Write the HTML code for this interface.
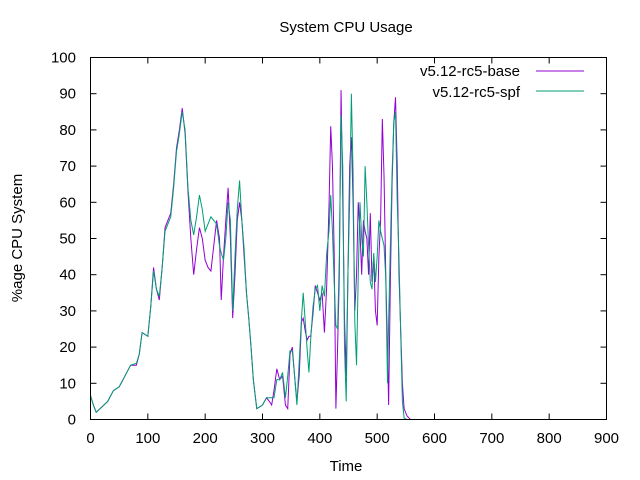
<!DOCTYPE html>
<html><head><meta charset="utf-8"><style>
body{margin:0;background:#fff}
svg{display:block;font-family:"Liberation Sans",sans-serif}
</style></head><body>
<svg id="chart" width="640" height="480">
<rect width="640" height="480" fill="#fff"/>
<text x="346" y="32" font-size="15" text-anchor="middle">System CPU Usage</text>
<text x="22" y="238" font-size="15" text-anchor="middle" transform="rotate(-90 22 238)">%age CPU System</text>
<text x="346" y="471" font-size="15" text-anchor="middle">Time</text>
<g id="axes"></g>
<g id="series"></g>
<rect x="90.5" y="57.5" width="516" height="362" fill="none" stroke="#000" stroke-width="1"/>
<g>
<text x="520" y="76" font-size="15" text-anchor="end">v5.12-rc5-base</text>
<line x1="536" y1="71" x2="584" y2="71" stroke="#9400d3" stroke-width="1"/>
<text x="520" y="97" font-size="15" text-anchor="end">v5.12-rc5-spf</text>
<line x1="536" y1="91" x2="584" y2="91" stroke="#009e73" stroke-width="1"/>
</g>
</svg>
<script>
const times=[0,5,10,20,30,40,50,60,70,80,85,90,100,105,110,115,120,125,130,140,145,150,155,160,165,170,175,180,185,190,195,200,205,210,215,220,225,228,232,236,240,244,248,252,256,260,264,268,272,276,280,284,290,300,307,312,316,320,325,330,335,340,344,348,352,356,360,364,368,371,375,378,381,384,388,392,396,400,404,408,412,416,419,422,425,428,431,434,437,440,443,446,449,452,455,458,461,464,467,470,473,476,479,482,485,488,491,494,497,500,503,506,509,512,515,518,520,523,526,529,532,535,538,541,544,547,552,558];
const baseValues=[6.6,4,2,3.5,5,8,9,12,15,15,18,24,23,31,42,36,33,42,53,57,65,75,80,86,79,63,50,40,47,53,50,44,42,41,48,55,50,33,45,55,64,50,28,40,55,60,55,45,35,28,20,11,3,4,6,5,4,8,14,11,12,4,3,18,20,12,5,12,27,28,24,22,23,23,29,37,35,33,35,24,37,59,81,70,46,3,20,40,91,60,28,12,40,70,78,60,30,40,60,52,40,55,52,50,40,57,38,45,30,26,45,55,83,67,40,20,4,38,65,82,89,70,40,25,10,3,1,0];
const spfValues=[6.6,4,2,3.5,5,8,9,12,15,15.5,18,24,23,31,41,36,34,42,52,56,64,74,79,85,80,64,55,51,56,62,58,52,54,56,55,54,48,46,44,50,60,55,30,45,58,66,55,47,35,28,20,11,3,4,6,6,6,6,11,11,13,6,12,19,19,12,4,16,28,35,26,19,13,22,31,36,37,30,37,34,46,52,62,52,38,26,25,45,84,70,20,5,40,60,90,68,27,15,40,60,50,45,70,60,48,38,36,46,38,45,55,52,50,48,39,10,27,48,68,82,85,60,45,24,5,0.4,0,0];
const xTicks=[0,100,200,300,400,500,600,700,800,900];
const yTicks=[0,10,20,30,40,50,60,70,80,90,100];
const L=90.5,R=606.5,T=57.5,B=419.5;
function xs(v){return L+(v/900)*(R-L);}
function ys(v){return B-(v/100)*(B-T);}
const NS="http://www.w3.org/2000/svg";
const axes=document.getElementById('axes');
xTicks.forEach(t=>{
  const x=xs(t);
  const a=document.createElementNS(NS,'line');
  a.setAttribute('x1',x);a.setAttribute('x2',x);a.setAttribute('y1',B);a.setAttribute('y2',B-6);a.setAttribute('stroke','#000');
  
  
  axes.appendChild(a);
  const b=document.createElementNS(NS,'line');
  b.setAttribute('x1',x);b.setAttribute('x2',x);b.setAttribute('y1',T);b.setAttribute('y2',T+6);b.setAttribute('stroke','#000');
  
  
  axes.appendChild(b);
  const tx=document.createElementNS(NS,'text');
  tx.setAttribute('x',x);tx.setAttribute('y',443);tx.setAttribute('font-size','15');tx.setAttribute('text-anchor','middle');
  tx.textContent=t;
  
  
  axes.appendChild(tx);
});
yTicks.forEach(t=>{
  const y=ys(t);
  const a=document.createElementNS(NS,'line');
  a.setAttribute('x1',L);a.setAttribute('x2',L+6);a.setAttribute('y1',y);a.setAttribute('y2',y);a.setAttribute('stroke','#000');
  
  
  axes.appendChild(a);
  const b=document.createElementNS(NS,'line');
  b.setAttribute('x1',R);b.setAttribute('x2',R-6);b.setAttribute('y1',y);b.setAttribute('y2',y);b.setAttribute('stroke','#000');
  
  
  axes.appendChild(b);
  const tx=document.createElementNS(NS,'text');
  tx.setAttribute('x',76);tx.setAttribute('y',y+5);tx.setAttribute('font-size','15');tx.setAttribute('text-anchor','end');
  tx.textContent=t;
  
  
  axes.appendChild(tx);
});
const series=document.getElementById('series');
function drawLine(vals,color,name){
  const p=document.createElementNS(NS,'polyline');
  p.setAttribute('points',vals.map((v,i)=>xs(times[i]).toFixed(2)+','+ys(v).toFixed(2)).join(' '));
  p.setAttribute('fill','none');p.setAttribute('stroke',color);p.setAttribute('stroke-width','1');
  
  
  series.appendChild(p);
}
drawLine(baseValues,'#9400d3','series-base-line');
drawLine(spfValues,'#009e73','series-spf-line');
</script>
</body></html>
